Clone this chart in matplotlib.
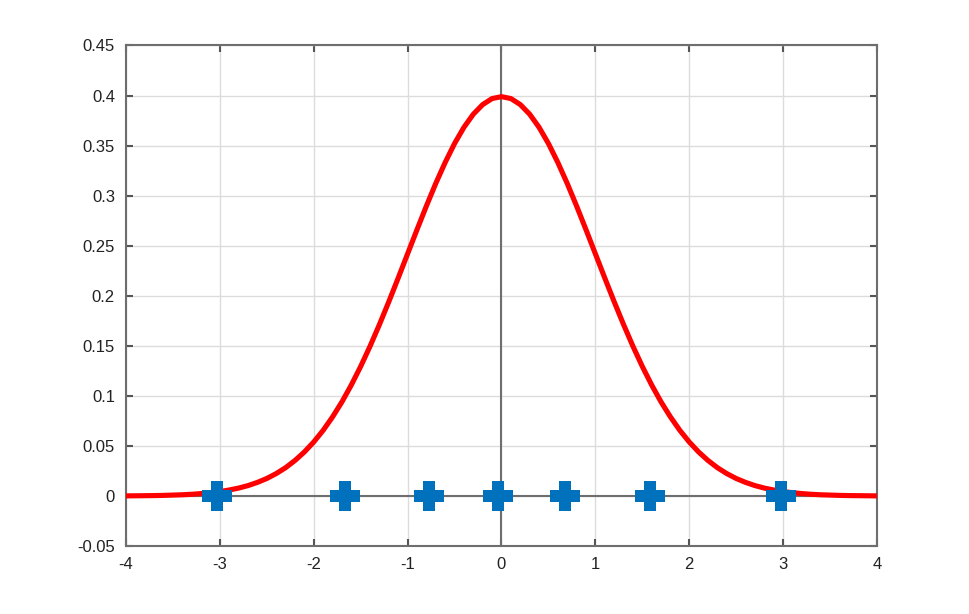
import numpy as np
import matplotlib
matplotlib.use('Agg')
import matplotlib.pyplot as plt

# Valores (densidad normal) cada 0.1
curva_x = [-4.0, -3.9, -3.8, -3.7, -3.6, -3.5, -3.4, -3.3, -3.2, -3.1,
           -3.0, -2.9, -2.8, -2.7, -2.6, -2.5, -2.4, -2.3, -2.2, -2.1,
           -2.0, -1.9, -1.8, -1.7, -1.6, -1.5, -1.4, -1.3, -1.2, -1.1,
           -1.0, -0.9, -0.8, -0.7, -0.6, -0.5, -0.4, -0.3, -0.2, -0.1,
           0.0, 0.1, 0.2, 0.3, 0.4, 0.5, 0.6, 0.7, 0.8, 0.9,
           1.0, 1.1, 1.2, 1.3, 1.4, 1.5, 1.6, 1.7, 1.8, 1.9,
           2.0, 2.1, 2.2, 2.3, 2.4, 2.5, 2.6, 2.7, 2.8, 2.9,
           3.0, 3.1, 3.2, 3.3, 3.4, 3.5, 3.6, 3.7, 3.8, 3.9, 4.0]
curva_y = [0.0001, 0.0002, 0.0003, 0.0004, 0.0006, 0.0009, 0.0012, 0.0017, 0.0024, 0.0033,
           0.0044, 0.0060, 0.0079, 0.0104, 0.0136, 0.0175, 0.0224, 0.0283, 0.0355, 0.0440,
           0.0540, 0.0656, 0.0790, 0.0940, 0.1109, 0.1295, 0.1497, 0.1714, 0.1942, 0.2179,
           0.2420, 0.2661, 0.2897, 0.3123, 0.3332, 0.3521, 0.3683, 0.3814, 0.3910, 0.3970,
           0.3989, 0.3970, 0.3910, 0.3814, 0.3683, 0.3521, 0.3332, 0.3123, 0.2897, 0.2661,
           0.2420, 0.2179, 0.1942, 0.1714, 0.1497, 0.1295, 0.1109, 0.0940, 0.0790, 0.0656,
           0.0540, 0.0440, 0.0355, 0.0283, 0.0224, 0.0175, 0.0136, 0.0104, 0.0079, 0.0060,
           0.0044, 0.0033, 0.0024, 0.0017, 0.0012, 0.0009, 0.0006, 0.0004, 0.0003, 0.0002, 0.0001]

# Puntos de muestra sobre el eje
muestras_x = [-3.03, -1.67, -0.77, -0.04, 0.68, 1.58, 2.98]
muestras_y = [0, 0, 0, 0, 0, 0, 0]

xticks = [-4, -3, -2, -1, 0, 1, 2, 3, 4]
yticks = [-0.05, 0, 0.05, 0.1, 0.15, 0.2, 0.25, 0.3, 0.35, 0.4, 0.45]
yticklabels = ['-0.05', '0', '0.05', '0.1', '0.15', '0.2', '0.25', '0.3', '0.35', '0.4', '0.45']

plt.rcParams['font.family'] = ['Liberation Sans', 'DejaVu Sans']

# Marcador en forma de cruz gruesa
a = 0.21
cruz = [(-a, 0.5), (a, 0.5), (a, a), (0.5, a), (0.5, -a), (a, -a), (a, -0.5),
        (-a, -0.5), (-a, -a), (-0.5, -a), (-0.5, a), (-a, a), (-a, 0.5)]

fig = plt.figure(figsize=(9.7, 6.14), dpi=100)
ax = fig.add_axes([0.130, 0.1107, 0.774, 0.8152])

ax.set_xlim(-4, 4)
ax.set_ylim(-0.05, 0.45)
ax.set_xticks(xticks)
ax.set_xticklabels([str(t) for t in xticks])
ax.set_yticks(yticks)
ax.set_yticklabels(yticklabels)

ax.grid(True, color='#dcdcdc', linewidth=1.0)
ax.set_axisbelow(True)

# Ejes en cero
ax.axhline(0, color='#6e6e6e', linewidth=1.5, zorder=1.5)
ax.axvline(0, color='#6e6e6e', linewidth=1.5, zorder=1.5)

ax.plot(curva_x, curva_y, color='#ff0000', linewidth=3.7, solid_joinstyle='round', zorder=3)
ax.plot(muestras_x, muestras_y, linestyle='none', marker=cruz, markersize=21,
        color='#0072bd', markeredgewidth=0, zorder=4)

for s in ax.spines.values():
    s.set_color('#6e6e6e')
    s.set_linewidth(1.5)

ax.tick_params(direction='in', length=5, width=1.5, color='#555555',
               top=True, right=True, labelsize=12, labelcolor='#222222', pad=8)

plt.savefig('out.png', dpi=100)
plt.close()
